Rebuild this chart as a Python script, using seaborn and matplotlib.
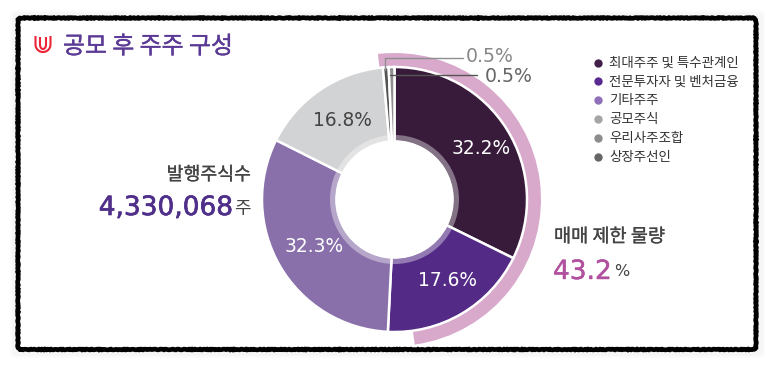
import numpy as np
import seaborn as sns
import matplotlib
matplotlib.use("Agg")
import matplotlib.pyplot as plt
import matplotlib.patheffects as pe
from matplotlib.patches import FancyBboxPatch, Circle, Wedge

sns.set_theme(style="white")
plt.rcParams['font.family'] = ['Noto Sans CJK KR', 'DejaVu Sans']
NUM = ['DejaVu Sans', 'Noto Sans CJK KR']

title = "공모 후 주주 구성"
categories = ["최대주주 및 특수관계인", "전문투자자 및 벤처금융", "기타주주", "공모주식", "우리사주조합", "상장주선인"]
value_labels = ["32.2%", "17.6%", "32.3%", "16.8%", "0.5%", "0.5%"]
# arc shares as measured on the picture, in drawing order
arc_shares = [32.3, 18.5, 31.6, 16.2, 0.7, 0.7]
arc_colors = ["#381B3B", "#532A85", "#8970AB", "#D2D3D5", "#555555", "#8E8E8E"]
legend_colors = ["#41204A", "#5A2A92", "#9070B8", "#A5A5A5", "#8C8C8C", "#666666"]
lock_shares = [49.6, 50.4]
shares_total = "4,330,068"
lock_total = "43.2"

W, H = 773, 367
fig = plt.figure(figsize=(W / 100, H / 100), dpi=100, facecolor="white")
ax = fig.add_axes([0, 0, 1, 1])
Y = lambda py: H - py
cx, cy = 394.5, Y(199.5)
R = 132.5


def heavy(c, w=0.5):
    return [pe.withStroke(linewidth=w, foreground=c)]


# frame with soft shadow
for pad, a in ((6, .03), (4, .04)):
    ax.add_patch(FancyBboxPatch((16 - pad, Y(352) - pad), 743 + 2 * pad, 336 + 2 * pad,
                                boxstyle="round,pad=0,rounding_size=6", fc="#888888", ec="none", alpha=a))
frame = FancyBboxPatch((18, Y(349.5)), 738, 331.5, boxstyle="round,pad=0,rounding_size=3",
                       fc="white", ec="black", lw=3.4, zorder=1)
frame.set_sketch_params(scale=0.35, length=5, randomness=3)
ax.add_patch(frame)

# locked-up outer arc
wedges, _ = ax.pie(lock_shares, radius=R + 14, center=(cx, cy), startangle=96.5, counterclock=False,
                   colors=["#D8A9CB", "none"], wedgeprops=dict(width=14, linewidth=0, zorder=2))
wedges[1].set_visible(False)

# main donut
wedges, _ = ax.pie(arc_shares, radius=R, center=(cx, cy), startangle=90, counterclock=False,
                   colors=arc_colors,
                   wedgeprops=dict(width=R - 58, edgecolor="white", linewidth=1.8, zorder=3))
ax.add_patch(Wedge((cx, cy), 64.5, 0, 360, width=5.5, fc="white", ec="none", alpha=.38, zorder=4))
ax.add_patch(Circle((cx, cy), 59, fc="white", ec="none", zorder=5))

ax.set_xlim(0, W)
ax.set_ylim(0, H)
ax.set_aspect("auto")
ax.axis("off")

# icon
t = np.linspace(np.pi, 2 * np.pi, 30)
for rx, ry, top in ((7.5, 7.5, 36), (3, 4.5, 37)):
    xs = np.r_[43 - rx, 43 + rx * np.cos(t), 43 + rx]
    ys = np.r_[top, 44.5 - ry * np.sin(t), top]
    ax.plot(xs, Y(ys), color="#EC2436", lw=1.5, zorder=6, solid_capstyle="butt")

ax.text(63, Y(47), title, color="#5B3A96", fontsize=17.2, fontweight="medium", va="center", ha="left", zorder=6,
        path_effects=heavy("#5B3A96", 0.3))

# slice labels
pos = [(481, 149), (447, 280), (314, 246), (342, 120)]
cols = ["white", "white", "white", "#444444"]
for lab, (px, py), c in zip(value_labels[:4], pos, cols):
    ax.text(px, Y(py), lab, color=c, fontsize=13.4, family=NUM, ha="center", va="center", zorder=6)

# leaders
ax.plot([385, 385, 463], Y(np.array([70, 58, 58])), color="#8E8E8E", lw=1, zorder=6)
ax.plot([390, 477], Y(np.array([74.5, 74.5])), color="#555555", lw=1, zorder=6)
ax.text(466, Y(56), value_labels[4], color="#888888", fontsize=13.6, family=NUM, ha="left", va="center", zorder=6)
ax.text(485, Y(77), value_labels[5], color="#666666", fontsize=13.6, family=NUM, ha="left", va="center", zorder=6)

# legend
for i, (name, c) in enumerate(zip(categories, legend_colors)):
    py = 62.5 + i * 18.9
    ax.scatter([597.5], [Y(py)], s=36, color=c, linewidths=0, zorder=6)
    ax.text(609, Y(py), name, color="#333333", fontsize=9.7, ha="left", va="center", zorder=6)

# left callout
ax.text(251, Y(175), "발행주식수", color="#444444", fontsize=13.2, fontweight="medium", ha="right", va="center", zorder=6,
        path_effects=heavy("#444444", 0.2))
ax.text(233, Y(208), shares_total, color="#4F2F8A", fontsize=19, family=NUM, ha="right", va="center", zorder=6,
        path_effects=heavy("#4F2F8A", 0.5))
ax.text(251, Y(209), "주", color="#444444", fontsize=13, fontweight="medium", ha="right", va="center", zorder=6)

# right callout
ax.text(554, Y(237), "매매 제한 물량", color="#444444", fontsize=13.4, fontweight="medium", ha="left", va="center", zorder=6,
        path_effects=heavy("#444444", 0.2))
ax.text(553, Y(272), lock_total, color="#B0509F", fontsize=19, family=NUM, ha="left", va="center", zorder=6,
        path_effects=heavy("#B0509F", 0.3))
ax.text(614, Y(272), "%", color="#444444", fontsize=11.5, family=NUM, ha="left", va="center", zorder=6)

fig.savefig("out.png", dpi=100, facecolor="white")
